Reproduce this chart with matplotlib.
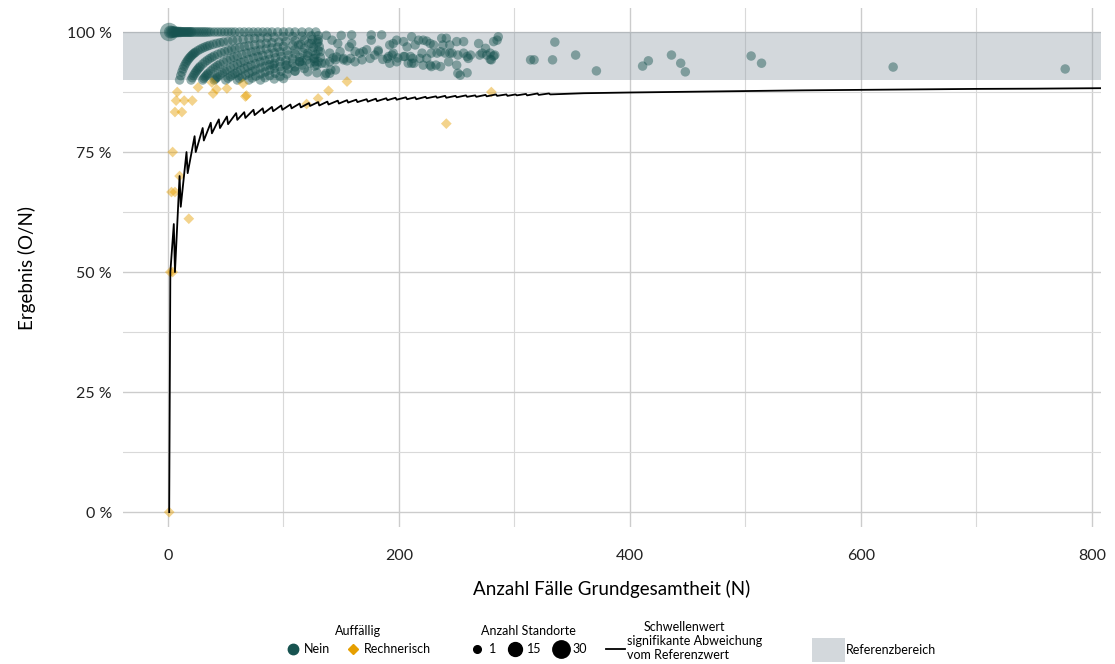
import matplotlib.pyplot as plt
from matplotlib.lines import Line2D
from matplotlib.patches import Patch

plt.rcParams['font.family'] = ['Lato', 'DejaVu Sans']

# Schwellenwert (Ecken der Sägezahnlinie), N und Prozent
schwelle_n = [1, 2, 5, 6, 10, 11, 16, 17, 23, 24, 30, 31, 37, 38,
              44, 45, 51, 52, 59, 60, 66, 67, 74, 75, 82, 83, 90, 91, 98, 99,
              106, 107, 114, 115, 122, 123, 130, 131, 138, 139, 147, 148, 155, 156,
              163, 164, 172, 173, 180, 181, 189, 190, 197, 198, 206, 207, 214, 215,
              223, 224, 232, 233, 240, 241, 249, 250, 258, 259, 266, 267, 275, 276,
              284, 285, 293, 294, 301, 302, 310, 311, 320, 321, 330, 331,
              360, 400, 450, 500, 550, 600, 650, 700, 750, 808]
schwelle_pct = [0.0, 50.0, 60.0, 50.0, 70.0, 63.6, 75.0, 70.6, 78.3, 75.0, 80.0, 77.4, 81.1, 78.9,
                81.8, 80.0, 82.4, 80.8, 83.1, 81.7, 83.3, 82.1, 83.8, 82.7, 84.1, 83.1, 84.4, 83.5, 84.7, 83.8,
                84.9, 84.1, 85.1, 84.3, 85.2, 84.6, 85.4, 84.7, 85.5, 84.9, 85.7, 85.1, 85.8, 85.3,
                85.9, 85.4, 86.0, 85.5, 86.1, 85.6, 86.2, 85.8, 86.3, 85.9, 86.4, 86.0, 86.4, 86.0,
                86.5, 86.2, 86.6, 86.3, 86.7, 86.3, 86.7, 86.4, 86.8, 86.5, 86.8, 86.5, 86.9, 86.6,
                87.0, 86.7, 87.0, 86.7, 87.0, 86.8, 87.1, 86.8, 87.2, 86.9, 87.2, 87.0,
                87.25, 87.4, 87.55, 87.7, 87.85, 87.95, 88.05, 88.15, 88.2, 88.3]

# Standorte mit 100 % (O = N) und Anzahl Standorte
top_n = [1, 2, 3, 4, 5, 6, 7, 8, 9, 10, 11, 12, 13, 14, 15, 16, 17, 18, 19, 20,
         21, 23, 25, 27, 29, 31, 33, 35, 37, 40, 43, 46, 49, 52, 55, 58,
         62, 66, 70, 74, 78, 82, 86, 90, 95, 100, 105, 110, 116, 122, 128]
top_sites = [30, 10, 8, 6, 5, 5, 4, 4, 3, 3, 3, 2, 2, 2, 2, 2, 2, 2, 2, 2,
             2, 2, 2, 2, 2, 2, 2, 1, 1, 1, 1, 1, 1, 1, 1, 1,
             1, 1, 1, 1, 1, 1, 1, 1, 1, 1, 1, 1, 1, 1, 1]

# Standorte mit 1..9 fehlenden Fällen (O = N - m), Werte für N
miss1_n = [10, 11, 12, 13, 14, 15, 16, 17, 18, 19, 20, 21, 22, 23, 24, 26, 28, 30, 32, 34,
           36, 39, 42, 45, 48, 52, 56, 60, 65, 70, 75, 80, 86, 92, 100, 108, 116, 124, 130]
miss2_n = [20, 21, 22, 23, 24, 25, 26, 27, 28, 30, 32, 34, 36, 38, 40, 43, 46, 49, 52, 55,
           58, 62, 66, 70, 75, 80, 85, 90, 96, 102, 110, 118, 125, 130]
miss3_n = [30, 31, 32, 33, 34, 35, 37, 39, 41, 43, 45, 48, 51, 54, 57, 60, 64, 68, 72, 76,
           80, 85, 90, 95, 100, 108, 115, 122, 129]
miss4_n = [40, 41, 42, 43, 45, 47, 49, 51, 54, 57, 60, 63, 66, 70, 74, 78, 82, 87, 92, 97,
           103, 110, 118, 126, 131]
miss5_n = [50, 52, 54, 56, 58, 60, 63, 66, 69, 72, 76, 80, 84, 88, 93, 98, 104, 110, 117, 125, 130]
miss6_n = [60, 62, 64, 67, 70, 73, 76, 80, 84, 88, 92, 97, 102, 108, 114, 121, 128]
miss7_n = [70, 73, 76, 80, 84, 88, 92, 97, 102, 108, 114, 120, 127, 132]
miss8_n = [80, 84, 88, 93, 98, 104, 110, 116, 123, 130]
miss9_n = [92, 97, 103, 110, 118, 127]
miss_lists = [miss1_n, miss2_n, miss3_n, miss4_n, miss5_n, miss6_n, miss7_n, miss8_n, miss9_n]

# übrige unauffällige Standorte (N, Ergebnis in %)
green_n = [110, 121, 129, 137, 141, 145, 116, 126, 129, 136, 143, 146, 155, 162, 168, 169,
           176, 185, 176, 172, 179, 182, 186, 190, 194, 192, 137, 150, 159, 142, 147, 157,
           149, 159, 162, 132, 121, 113, 124, 130, 140, 145, 152,
           195, 198, 204, 207, 211, 214, 217, 221, 224, 227, 230, 228, 237, 241, 238, 244,
           250, 256, 269, 275, 270, 276, 280, 285, 283, 286, 251, 259, 220, 224, 233, 240,
           246, 210, 211, 227, 228, 236, 243, 244, 260, 199, 205, 208, 192, 195,
           282, 272, 279, 282, 279, 114, 127, 133, 140, 152, 158, 140, 136, 166, 175, 182,
           191, 198, 204, 212, 213, 218, 221, 232, 236, 251, 256, 259, 262, 250, 253, 103,
           100, 91,
           314, 317, 333, 335, 353, 371, 411, 416, 436, 444, 448, 505, 514, 628, 777]
green_pct = [91.9, 91.7, 91.5, 91.4, 92.1, 92.1, 94.0, 94.5, 93.1, 93.5, 94.6, 94.8, 94.0, 93.8, 94.2, 95.9,
             99.4, 99.4, 98.3, 96.3, 95.2, 96.2, 94.3, 94.5, 95.2, 97.3, 99.3, 99.3, 99.4, 98.3, 97.6, 96.9,
             95.9, 97.6, 95.9, 95.9, 95.6, 97.3, 97.6, 98.0, 95.6, 94.2, 94.5,
             97.6, 98.3, 98.0, 96.9, 99.0, 97.3, 98.3, 98.3, 98.1, 97.6, 97.3, 95.6, 98.7, 98.7, 97.3, 97.3,
             98.0, 98.0, 97.6, 96.6, 95.2, 95.2, 94.2, 98.3, 95.2, 99.0, 91.4, 91.5, 95.6, 94.5, 95.6, 95.6,
             95.6, 94.9, 93.5, 93.1, 92.8, 92.8, 93.8, 95.6, 94.5, 94.6, 94.9, 93.5, 93.5, 95.6,
             98.0, 95.6, 95.6, 95.0, 94.3, 93.8, 93.8, 93.5, 93.8, 94.2, 94.5, 91.4, 91.0, 95.6, 94.5, 95.9,
             94.9, 93.8, 94.9, 94.5, 93.5, 94.5, 93.1, 93.1, 95.9, 95.2, 95.6, 94.9, 95.2, 93.1, 91.0, 93.1,
             90.3, 93.1,
             94.2, 94.2, 94.2, 97.9, 95.2, 91.9, 92.9, 94.0, 95.2, 93.5, 91.7, 95.0, 93.5, 92.7, 92.3]

# rechnerisch auffällige Standorte (N, O)
yellow_n = [1, 2, 4, 3, 6, 4, 10, 18, 6, 12, 7, 14, 21, 8, 26, 38, 39, 42, 51, 65, 67, 68,
            120, 130, 139, 155, 241, 280]
yellow_o = [0, 1, 2, 2, 4, 3, 7, 11, 5, 10, 6, 12, 18, 7, 23, 34, 34, 37, 45, 58, 58, 59,
            102, 112, 122, 139, 195, 245]

green = '#175350'
orange = '#E69F00'


def site_size(count):
    return 42 + 4.5 * count


fig = plt.figure(figsize=(11.15, 6.64), dpi=100)
ax = fig.add_axes([123 / 1115, 1 - 527 / 664, (1101 - 123) / 1115, (527 - 8) / 664])

ax.axhspan(90, 100, color='#919ea8', alpha=0.4, lw=0, zorder=1)

ax.scatter(top_n, [100.0] * len(top_n), s=[site_size(c) for c in top_sites],
           color=green, alpha=0.45, edgecolors='none', zorder=3)
for m, ns in enumerate(miss_lists, start=1):
    ax.scatter(ns, [(n - m) / n * 100 for n in ns], s=site_size(1),
               color=green, alpha=0.45, edgecolors='none', zorder=3)
ax.scatter(green_n, green_pct, s=site_size(1), color=green, alpha=0.45,
           edgecolors='none', zorder=3)
ax.scatter(yellow_n, [o / n * 100 for o, n in zip(yellow_o, yellow_n)], s=30, marker='D',
           color=orange, alpha=0.45, edgecolors='none', zorder=3)

ax.plot(schwelle_n, schwelle_pct, color='black', lw=1.3, zorder=4)

ax.set_xlim(-39, 808)
ax.set_ylim(-3.1, 105)
ax.set_xticks([0, 200, 400, 600, 800])
ax.set_xticks([100, 300, 500, 700], minor=True)
ax.set_yticks([0, 25, 50, 75, 100])
ax.set_yticklabels(['0 %', '25 %', '50 %', '75 %', '100 %'])
ax.set_yticks([12.5, 37.5, 62.5, 87.5], minor=True)
ax.set_axisbelow(True)
ax.grid(which='major', color='#cccccc', lw=1.0)
ax.grid(which='minor', color='#d9d9d9', lw=0.8)
for sp in ax.spines.values():
    sp.set_visible(False)
ax.tick_params(which='both', length=0, labelsize=11.5, colors='#222222')
ax.tick_params(axis='x', pad=16)
ax.tick_params(axis='y', pad=8)
ax.set_xlabel('Anzahl Fälle Grundgesamtheit (N)', fontsize=13.5, labelpad=12)
ax.set_ylabel('Ergebnis (O/N)', fontsize=13.5, labelpad=22)

lg = dict(frameon=False, fontsize=9, title_fontsize=9, loc='center', borderaxespad=0)

h1 = [Line2D([], [], marker='o', ls='', color=green, ms=7.5),
      Line2D([], [], marker='D', ls='', color=orange, ms=5.5)]
fig.legend(h1, ['Nein', 'Rechnerisch'], title='Auffällig', ncol=2,
           bbox_to_anchor=(358 / 1115, 1 - 640 / 664), handletextpad=0.2,
           columnspacing=1.2, handlelength=1.3, **lg)

h2 = [Line2D([], [], marker='o', ls='', color='black', ms=5.5),
      Line2D([], [], marker='o', ls='', color='black', ms=10),
      Line2D([], [], marker='o', ls='', color='black', ms=12.5)]
fig.legend(h2, ['1', '15', '30'], title='Anzahl Standorte', ncol=3,
           bbox_to_anchor=(528 / 1115, 1 - 640 / 664), handletextpad=0.3,
           columnspacing=0.9, handlelength=1.3, **lg)

h3 = [Line2D([], [], color='black', lw=1.3)]
fig.legend(h3, ['signifikante Abweichung\nvom Referenzwert'], title='Schwellenwert',
           bbox_to_anchor=(684 / 1115, 1 - 641 / 664), handletextpad=0.2,
           handlelength=1.5, labelspacing=0.2, **lg)

h4 = [Patch(color='#d3d8dc', lw=0)]
fig.legend(h4, ['Referenzbereich'], bbox_to_anchor=(874 / 1115, 1 - 650 / 664),
           handlelength=2.6, handleheight=2.6, handletextpad=0.1, **lg)

fig.savefig('out.png', dpi=100)
